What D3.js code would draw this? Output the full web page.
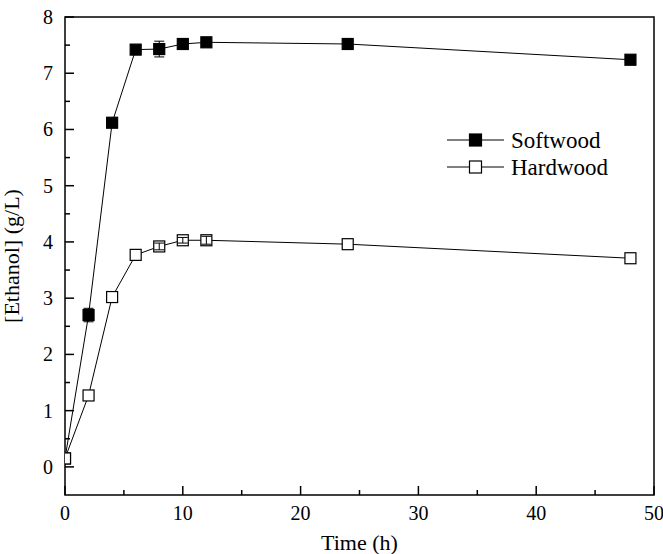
<!DOCTYPE html>
<html>
<head>
<meta charset="utf-8">
<script src="https://cdn.jsdelivr.net/npm/d3@7"></script>
<style>
body { margin: 0; background: #fff; }
text { font-family: "Liberation Serif", "Times New Roman", serif; fill: #000; }
</style>
</head>
<body>
<div class="chart"></div>
<script>
// DATA ------------------------------
const times = [0, 2, 4, 6, 8, 10, 12, 24, 48]
const softwood = [0.15, 2.7, 6.12, 7.42, 7.43, 7.52, 7.55, 7.52, 7.24]
const softwoodErr = [0, 0.12, 0, 0, 0.14, 0, 0, 0, 0]
const hardwood = [0.15, 1.27, 3.02, 3.77, 3.92, 4.03, 4.03, 3.96, 3.71]
const hardwoodErr = [0, 0, 0, 0, 0.06, 0.05, 0.07, 0, 0]
const xTicks = [0, 10, 20, 30, 40, 50]
const yTicks = [0, 1, 2, 3, 4, 5, 6, 7, 8]

// MARGIN CONVENTION
const margin = ({top: 17, right: 9, bottom: 59, left: 65})
const width = 663 - margin.left - margin.right,
	height = 554 - margin.top - margin.bottom

const svg = d3
	.select(".chart")
	.append("svg")
	.attr("width", width + margin.left + margin.right)
	.attr("height", height + margin.top + margin.bottom)
	.append("g")
	.attr("transform", "translate(" + margin.left + "," + margin.top + ")")

let xScale = d3.scaleLinear().domain([0, 50]).range([0, width])
let yScale = d3.scaleLinear().domain([-0.5, 8]).range([height, 0])

// minor ticks
let xMinor = d3.range(5, 50, 10)
let yMinor = d3.range(-0.5, 8, 1).filter(d => d > -0.5)

svg.append("g")
	.attr("transform", `translate(0, ${height})`)
	.selectAll("line")
	.data(xTicks.concat(xMinor))
	.join("line")
	.attr("x1", d => xScale(d)).attr("x2", d => xScale(d))
	.attr("y1", 0).attr("y2", d => xTicks.includes(d) ? -9 : -5)
	.attr("stroke", "#000").attr("stroke-width", 1.5)

svg.append("g")
	.selectAll("line")
	.data(yTicks.concat(yMinor))
	.join("line")
	.attr("y1", d => yScale(d)).attr("y2", d => yScale(d))
	.attr("x1", 0).attr("x2", d => yTicks.includes(d) ? 9 : 5)
	.attr("stroke", "#000").attr("stroke-width", 1.5)

// tick labels
svg.append("g")
	.selectAll("text")
	.data(xTicks)
	.join("text")
	.attr("x", d => xScale(d))
	.attr("y", height + 25)
	.attr("text-anchor", "middle")
	.style("font-size", "20px")
	.text(d => d)

svg.append("g")
	.selectAll("text")
	.data(yTicks)
	.join("text")
	.attr("x", -12)
	.attr("y", d => yScale(d) + 7)
	.attr("text-anchor", "end")
	.style("font-size", "20px")
	.text(d => d)

// frame
svg.append("rect")
	.attr("width", width).attr("height", height)
	.attr("fill", "none").attr("stroke", "#000").attr("stroke-width", 1.5)

// axis titles
svg.append("text")
	.attr("x", width / 2)
	.attr("y", height + 55)
	.attr("text-anchor", "middle")
	.style("font-size", "22px")
	.text("Time (h)")

svg.append("text")
	.attr("transform", `translate(${-46}, ${height / 2}) rotate(-90)`)
	.attr("text-anchor", "middle")
	.style("font-size", "22px")
	.text("[Ethanol] (g/L)")

// clip
svg.append("clipPath").attr("id", "clip")
	.append("rect").attr("width", width).attr("height", height)

const plot = svg.append("g").attr("clip-path", "url(#clip)")

let line = d3.line().x(d => xScale(d.t)).y(d => yScale(d.v))

function drawSeries(vals, errs, fill) {
	let data = times.map((t, i) => ({t: t, v: vals[i], e: errs[i]}))
	plot.append("path")
		.datum(data)
		.attr("d", line)
		.attr("fill", "none").attr("stroke", "#000").attr("stroke-width", 1)
	plot.append("g").selectAll("rect").data(data).join("rect")
		.attr("x", d => xScale(d.t) - 5.5)
		.attr("y", d => yScale(d.v) - 5.5)
		.attr("width", 11).attr("height", 11)
		.attr("fill", fill)
		.attr("stroke", "#000").attr("stroke-width", 1.2)
	let eb = plot.append("g").selectAll("g").data(data.filter(d => d.e > 0)).join("g")
	eb.append("line")
		.attr("x1", d => xScale(d.t)).attr("x2", d => xScale(d.t))
		.attr("y1", d => yScale(d.v - d.e)).attr("y2", d => yScale(d.v + d.e))
		.attr("stroke", "#000")
	eb.selectAll(".cap").data(d => [[d.t, d.v - d.e], [d.t, d.v + d.e]]).join("line")
		.attr("x1", d => xScale(d[0]) - 5).attr("x2", d => xScale(d[0]) + 5)
		.attr("y1", d => yScale(d[1])).attr("y2", d => yScale(d[1]))
		.attr("stroke", "#000")
}

drawSeries(softwood, softwoodErr, "#000")
drawSeries(hardwood, hardwoodErr, "#fff")

// legend
const legend = svg.append("g").attr("transform", "translate(382, 123)")
const entries = [["Softwood", "#000"], ["Hardwood", "#fff"]]
entries.forEach((e, i) => {
	let g = legend.append("g").attr("transform", `translate(0, ${i * 27})`)
	g.append("line").attr("x1", 0).attr("x2", 57).attr("stroke", "#000")
	g.append("rect").attr("x", 22.5).attr("y", -6).attr("width", 12).attr("height", 12)
		.attr("fill", e[1]).attr("stroke", "#000").attr("stroke-width", 1.2)
	g.append("text").attr("x", 64).attr("y", 8).style("font-size", "23px").text(e[0])
})
</script>
</body>
</html>
